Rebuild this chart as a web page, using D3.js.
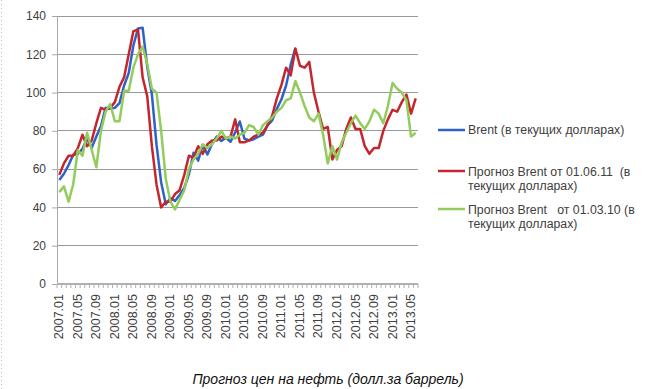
<!DOCTYPE html>
<html><head><meta charset="utf-8">
<script src="https://cdn.jsdelivr.net/npm/d3@7"></script>
<style>
html,body{margin:0;padding:0;background:#fff;}
svg{display:block;font-family:"Liberation Sans",Arial,sans-serif;}
</style></head>
<body>
<svg id="chart" width="650" height="389"></svg>
<script>
// ---- data ----
const months = [];
for (let y = 2007; y <= 2013; y++) {
  for (let m = 1; m <= 12; m++) {
    if (y === 2013 && m > 6) break;
    months.push(y + "." + String(m).padStart(2, "0"));
  }
}
const tickLabels = months.filter((d, i) => i % 4 === 0);
const yTicks = [0, 20, 40, 60, 80, 100, 120, 140];

const brent = [54.3, 57.6, 62.1, 67.5, 67.9, 70.6, 75.8, 71.2, 77.0, 82.5, 92.1, 91.5,
  92.0, 94.5, 103.7, 110.2, 124.6, 133.5, 133.9, 113.4, 99.1, 72.8, 53.2, 41.6,
  44.9, 43.4, 46.5, 50.2, 57.3, 68.6, 64.4, 72.5, 67.7, 73.2, 77.0, 74.7,
  76.4, 74.3, 79.3, 84.9, 75.9, 75.0, 75.6, 77.0, 78.0, 82.9, 85.5, 91.5,
  96.5, 103.7, 114.6, 123.3];

const forecast110601 = [57, 63, 67, 67, 71, 78, 72, 75, 84, 92, 91, 92,
  95, 103, 108, 120, 132, 133, 108, 98, 72, 52, 40, 43,
  43, 47, 49, 57, 67, 66, 72, 68, 73, 75, 75, 77,
  76, 77, 86, 74, 74, 75, 77, 78, 79, 83, 88, 97,
  104, 113, 109, 123, 114, 113, 116, 100, 90, 81, 82, 65,
  70, 72, 81, 87, 81, 81, 72, 68, 71, 71, 80, 86,
  91, 90, 95, 99, 89, 97];

const forecast100301 = [48, 51, 43, 52, 70, 67, 79, 70, 61, 80, 90, 94,
  85, 85, 101, 101, 113, 120, 124, 115, 102, 100, 80, 55,
  43, 39, 44, 49, 60, 65, 68, 73, 71, 73, 76, 80,
  76, 77, 76, 78, 79, 83, 82, 78, 83, 85, 87, 90,
  92, 96, 97, 106, 100, 93, 87, 85, 89, 78, 63, 72,
  65, 74, 79, 84, 88, 84, 81, 85, 91, 89, 84, 93,
  105, 102, 100, 96, 77, 79];

const seriesNames = ["Brent (в текущих долларах)",
  "Прогноз Brent от 01.06.11  (в|текущих долларах)",
  "Прогноз Brent   от 01.03.10 (в|текущих долларах)"];
const seriesColors = ["#2f62c8", "#c4262e", "#92cc5c"];
const title = "Прогноз цен на нефть (долл.за баррель)";

// ---- layout ----
const svg = d3.select("#chart");
const L = 57, R = 418, T = 16, B = 284;

const x = d3.scalePoint().domain(months).range([L, R]).padding(0.5);
const y = d3.scaleLinear().domain([0, 140]).range([B, T]);

// left dotted frame border
svg.append("line").attr("x1", 1.5).attr("x2", 1.5).attr("y1", 0).attr("y2", 389)
  .attr("stroke", "#bbb").attr("stroke-dasharray", "1,3");

// gridlines
svg.append("g").selectAll("line").data(yTicks.filter(d => d > 0)).join("line")
  .attr("x1", L).attr("x2", R).attr("y1", d => y(d)).attr("y2", d => y(d))
  .attr("stroke", "#9a9a9a").attr("stroke-width", 1).attr("shape-rendering", "crispEdges");

// y axis
const yAxis = d3.axisLeft(y).tickValues(yTicks).tickSize(5).tickPadding(6);
const gy = svg.append("g").attr("transform", `translate(${L},0)`).call(yAxis);
gy.select(".domain").attr("stroke", "#a8a8a8");
gy.selectAll(".tick line").attr("stroke", "#a8a8a8");
gy.selectAll("text").attr("fill", "#404040").style("font-size", "12px")
  .style("font-family", "Liberation Sans, Arial, sans-serif");

// x axis
const step = x.step();
const boundaries = d3.range(months.length + 1).map(i => L + i * step);
const gx = svg.append("g");
gx.append("line").attr("x1", L).attr("x2", R).attr("y1", B).attr("y2", B)
  .attr("stroke", "#b0b0b0").attr("stroke-width", 2);
gx.selectAll("line.t").data(boundaries).join("line").attr("class", "t")
  .attr("x1", d => d).attr("x2", d => d).attr("y1", B).attr("y2", B + 4)
  .attr("stroke", "#b0b0b0");
gx.selectAll("text").data(tickLabels).join("text")
  .attr("transform", d => `translate(${x(d) + 4},${B + 10}) rotate(-90)`)
  .attr("text-anchor", "end")
  .attr("fill", "#404040").style("font-size", "12.5px")
  .text(d => d);

// lines
const line = d3.line().x((d, i) => x(months[i])).y(d => y(d));
[brent, forecast110601, forecast100301].forEach((s, k) => {
  svg.append("path").datum(s).attr("d", line)
    .attr("fill", "none").attr("stroke", seriesColors[k]).attr("stroke-width", 2.5)
    .attr("stroke-linejoin", "round");
});

// legend
const legY = [130, 171, 209];
seriesNames.forEach((name, k) => {
  const g = svg.append("g").attr("transform", `translate(438,${legY[k]})`);
  g.append("line").attr("x1", 0).attr("x2", 27).attr("y1", 0).attr("y2", 0)
    .attr("stroke", seriesColors[k]).attr("stroke-width", 2.5);
  name.split("|").forEach((t, j) => {
    g.append("text").attr("x", 30).attr("y", 4 + j * 14 + (k > 0 ? 1 : 0))
      .attr("fill", "#404040").style("font-size", "12.3px")
      .style("white-space", "pre").text(t);
  });
});

// title
svg.append("text").attr("x", 328).attr("y", 384).attr("text-anchor", "middle")
  .style("font-style", "italic").style("font-size", "14px").attr("fill", "#111")
  .text(title);
</script>
</body></html>
